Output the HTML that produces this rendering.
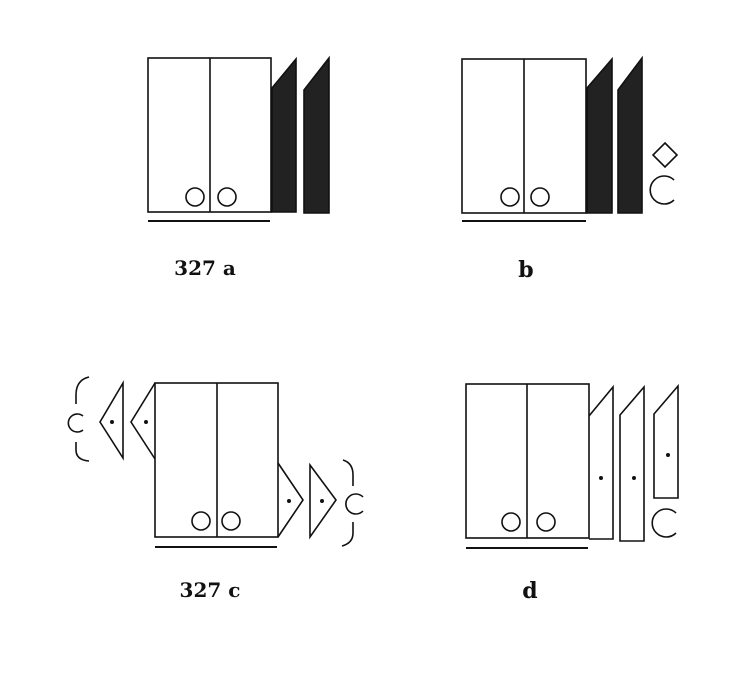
<!DOCTYPE html>
<html><head><meta charset="utf-8"><style>
html,body{margin:0;padding:0;background:#fff;}
svg{display:block}
text{font-family:"DejaVu Serif","Liberation Serif",serif;font-weight:bold;fill:#111}
</style></head><body>
<svg width="744" height="675" viewBox="0 0 744 675" stroke="#111" fill="none" stroke-width="1.6">
<g>
 <rect x="148" y="58" width="123" height="154"/>
 <line x1="210" y1="58" x2="210" y2="212"/>
 <circle cx="195" cy="197" r="9"/><circle cx="227" cy="197" r="9"/>
 <line x1="148" y1="221" x2="270" y2="221" stroke-width="2"/>
 <polygon points="272,88 296,59 296,212 272,212" fill="#222"/>
 <polygon points="304,90 329,58 329,213 304,213" fill="#222"/>
 <text x="205" y="275" font-size="20" text-anchor="middle" stroke="none">327 a</text>
</g>
<g>
 <rect x="462" y="59" width="124" height="154"/>
 <line x1="524" y1="59" x2="524" y2="213"/>
 <circle cx="510" cy="197" r="9"/><circle cx="540" cy="197" r="9"/>
 <line x1="462" y1="221" x2="586" y2="221" stroke-width="2"/>
 <polygon points="587,88 612,59 612,213 587,213" fill="#222"/>
 <polygon points="618,90 642,58 642,213 618,213" fill="#222"/>
 <polygon points="665,143 677,155 665,167 653,155"/>
 <path d="M674,180 A14,14 0 1 0 674,200"/>
 <text x="526" y="277" font-size="22" text-anchor="middle" stroke="none">b</text>
</g>
<g>
 <rect x="155" y="383" width="123" height="154"/>
 <line x1="217" y1="383" x2="217" y2="537"/>
 <circle cx="201" cy="521" r="9"/><circle cx="231" cy="521" r="9"/>
 <line x1="155" y1="547" x2="277" y2="547" stroke-width="2"/>
 <polyline points="155,383 131,422 155,459"/>
 <polygon points="123,383 100,422 123,458"/>
 <circle cx="146" cy="422" r="1.2" fill="#111"/><circle cx="112" cy="422" r="1.2" fill="#111"/>
 <path d="M83,416 A9,9 0 1 0 83,430"/>
 <path d="M89,377 Q76,380 76,395 L76,404"/><path d="M76,442 L76,450 Q76,460 89,461"/>
 <polyline points="278,463 303,500 278,537"/>
 <polygon points="310,465 336,500 310,537"/>
 <circle cx="289" cy="501" r="1.2" fill="#111"/><circle cx="322" cy="501" r="1.2" fill="#111"/>
 <path d="M363,497 A10,10 0 1 0 363,511"/>
 <path d="M343,460 Q353,463 353,475 L353,486"/><path d="M353,522 L353,533 Q353,543 342,546"/>
 <text x="210" y="597" font-size="20" text-anchor="middle" stroke="none">327 c</text>
</g>
<g>
 <rect x="466" y="384" width="123" height="154"/>
 <line x1="527" y1="384" x2="527" y2="538"/>
 <circle cx="511" cy="522" r="9"/><circle cx="546" cy="522" r="9"/>
 <line x1="466" y1="548" x2="588" y2="548" stroke-width="2"/>
 <polyline points="589,416 613,387 613,539 589,539"/>
 <polygon points="620,415 644,387 644,541 620,541"/>
 <polygon points="654,414 678,386 678,498 654,498"/>
 <circle cx="601" cy="478" r="1.2" fill="#111"/><circle cx="634" cy="478" r="1.2" fill="#111"/><circle cx="668" cy="455" r="1.2" fill="#111"/>
 <path d="M676,513 A14,14 0 1 0 676,533"/>
 <text x="530" y="598" font-size="22" text-anchor="middle" stroke="none">d</text>
</g>
</svg>
</body></html>
